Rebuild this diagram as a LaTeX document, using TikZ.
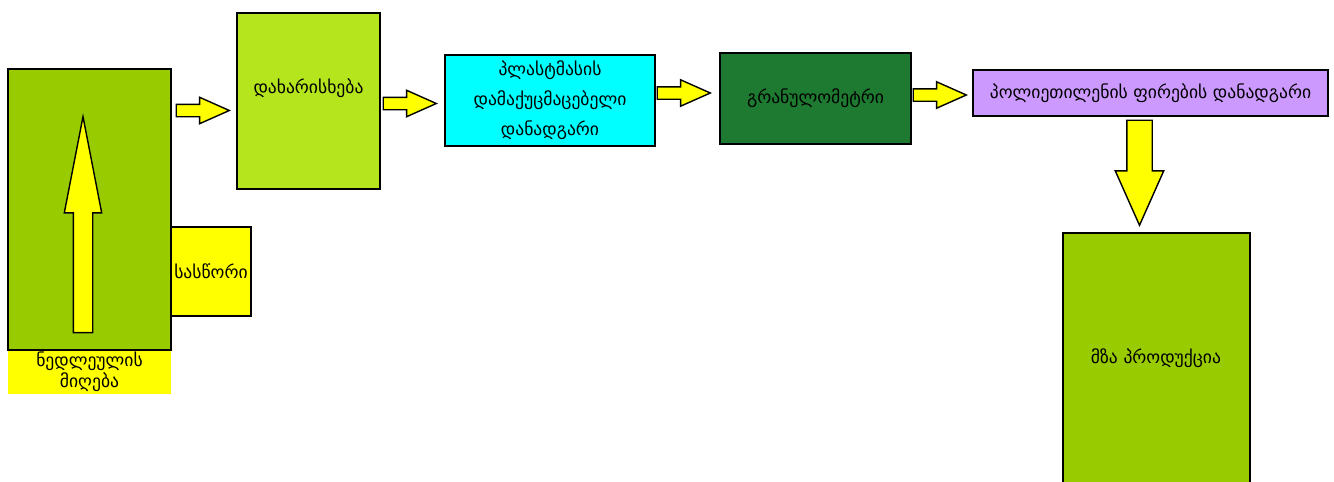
\documentclass[tikz,border=0pt]{standalone}
\usepackage{fontspec}
\setmainfont{DejaVu Sans}
\usetikzlibrary{shapes.arrows}
\definecolor{rawgreen}{RGB}{153,204,0}
\definecolor{sortgreen}{RGB}{181,230,29}
\definecolor{granulgreen}{RGB}{30,122,48}
\definecolor{crushercyan}{RGB}{0,255,255}
\definecolor{filmviolet}{RGB}{204,153,255}
\definecolor{flowyellow}{RGB}{255,255,0}
\tikzset{
	box/.style={draw=black, line width=1.2pt, inner sep=0pt, align=center},
	rarrow/.style={single arrow, draw=black, fill=flowyellow, line width=0.7pt, inner xsep=0pt, inner ysep=2.75pt, minimum height=26.5pt, single arrow head extend=3.5pt, single arrow tip angle=48, anchor=tip}
}

\begin{document}
\begin{tikzpicture}[x=0.5pt, y=-0.5pt, font=\fontsize{8.8}{15}\selectfont]
			\useasboundingbox (0,0) rectangle (1334,482);
			\clip (0,0) rectangle (1334,482);
			%%%%% START %%%%%
			
			\node[box, draw=none, fill=flowyellow, minimum width=81.5pt, minimum height=22pt, font=\fontsize{8.8}{10.5}\selectfont] (rawlbl) at (89.5,372) {ნედლეულის\\მიღება};
			\node[box, fill=flowyellow, minimum width=40pt, minimum height=44.5pt] (scale) at (211,271.5) {სასწორი};
			\node[box, fill=rawgreen, minimum width=81.5pt, minimum height=140.5pt] (raw) at (89.5,209.5) {};
			\node[rarrow, rotate=90, minimum height=108pt, inner ysep=4.5pt, single arrow head extend=4.5pt, single arrow tip angle=22] (lift) at (83,113) {};
			
			\node[box, fill=sortgreen, minimum width=71.5pt, minimum height=88pt] (sort) at (308.5,101) {};
			\node (sortlbl) at (308.5,88) {დახარისხება};
			
			\node[box, fill=crushercyan, minimum width=105pt, minimum height=45.5pt] (crusher) at (550,100.5) {პლასტმასის\\დამაქუცმაცებელი\\დანადგარი};
			
			\node[box, fill=granulgreen, minimum width=95.5pt, minimum height=45.5pt] (granul) at (815.5,98.5) {გრანულომეტრი};
			
			\node[box, fill=filmviolet, minimum width=177.5pt, minimum height=23pt] (film) at (1150.5,93) {პოლიეთილენის ფირების დანადგარი};
			
			\node[box, fill=rawgreen, minimum width=93.5pt, minimum height=133.5pt] (product) at (1156.5,366.5) {};
			\node (productlbl) at (1156,358) {მზა პროდუქცია};
			
			% flow arrows
			\node[rarrow] (a1) at (231,110.5) {};
			\node[rarrow] (a2) at (438,103.5) {};
			\node[rarrow] (a3) at (712,93) {};
			\node[rarrow] (a4) at (968,95) {};
			\node[rarrow, rotate=-90, minimum height=52.5pt, inner ysep=6pt, single arrow head extend=5.75pt] (down) at (1139.5,227) {};
			
			%%%%% END %%%%%
\end{tikzpicture}
\end{document}
